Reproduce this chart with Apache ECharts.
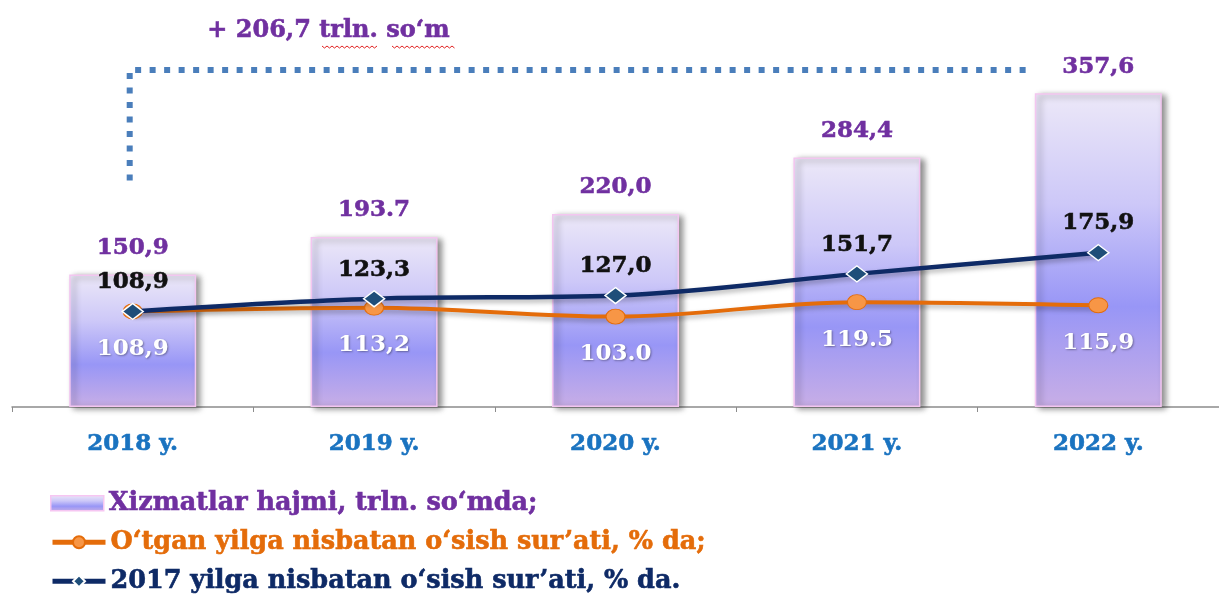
<!DOCTYPE html>
<html>
<head>
<meta charset="utf-8">
<script src="https://cdn.jsdelivr.net/npm/echarts@6/dist/echarts.min.js"></script>
<style>
  html, body { margin: 0; padding: 0; background: #fff; }
  #chart { width: 1219px; height: 595px; }
</style>
</head>
<body>
<div id="chart"></div>
<script>
// data
const years = ['2018 y.', '2019 y.', '2020 y.', '2021 y.', '2022 y.']
const volume = [150.9, 193.7, 220.0, 284.4, 357.6]
const volumeLabels = ['150,9', '193.7', '220,0', '284,4', '357,6']
const growthPrev = [108.9, 113.2, 103.0, 119.5, 115.9]
const growthPrevLabels = ['108,9', '113,2', '103.0', '119.5', '115,9']
const growth2017 = [108.9, 123.3, 127.0, 151.7, 175.9]
const growth2017Labels = ['108,9', '123,3', '127,0', '151,7', '175,9']

const barName = 'Xizmatlar hajmi, trln. so‘mda;'
const prevName = 'O‘tgan yilga nisbatan o‘sish sur’ati, % da;'
const baseName = '2017 yilga nisbatan o‘sish sur’ati, % da.'

const serif = '"DejaVu Serif", "Liberation Serif", serif'
const purple = '#7030a0'
const orange = '#e46c0a'
const navy = '#0e2a66'

const barGradient = new echarts.graphic.LinearGradient(0, 0, 0, 1, [
  { offset: 0, color: '#ece8f8' },
  { offset: 0.35, color: '#cdc8f8' },
  { offset: 0.68, color: '#9896f6' },
  { offset: 1, color: '#c8aee6' }
])

// bold text a bit heavier, like the original
function heavy(color, size) {
  return {
    color: color,
    fontFamily: serif,
    fontWeight: 'bold',
    fontSize: size,
    textBorderColor: color,
    textBorderWidth: 0.6
  }
}

// one legend per row, stacked under the axis
function legendRow(item, top) {
  return {
    orient: 'vertical',
    left: 50,
    top: top,
    padding: 0,
    itemWidth: 53,
    itemHeight: 15,
    data: [item]
  }
}

const chart = echarts.init(document.getElementById('chart'))

const option = {
  animation: false,
  grid: { left: 12, width: 1218, top: 56, bottom: 188 },
  legend: [
    legendRow({
      name: barName, icon: 'rect',
      itemStyle: { borderColor: '#f6c6f2', borderWidth: 1.5 },
      textStyle: heavy(purple, 25.5)
    }, 490),
    legendRow({
      name: prevName,
      lineStyle: { width: 5, shadowBlur: 0 },
      textStyle: heavy(orange, 25.5)
    }, 529),
    legendRow({
      name: baseName,
      lineStyle: { width: 5, shadowBlur: 0 },
      textStyle: heavy(navy, 25.5)
    }, 568)
  ],
  xAxis: {
    type: 'category',
    data: years,
    axisLine: { lineStyle: { color: '#8c8c8c', width: 1.5 } },
    axisTick: { show: true, length: 5, lineStyle: { color: '#8c8c8c' } },
    axisLabel: Object.assign(heavy('#1a73c0', 23), { margin: 26 })
  },
  yAxis: {
    type: 'value',
    min: 0,
    max: 400,
    show: false,
    splitLine: { show: false }
  },
  series: [
    {
      name: barName,
      type: 'bar',
      barWidth: 127,
      data: volume,
      itemStyle: {
        color: barGradient,
        borderColor: '#f3c6f0',
        borderWidth: 1.5,
        shadowColor: 'rgba(0,0,0,0.45)',
        shadowBlur: 6,
        shadowOffsetX: 4,
        shadowOffsetY: 2
      },
      label: Object.assign(heavy(purple, 23), {
        show: true,
        position: 'top',
        distance: 15,
        formatter: p => volumeLabels[p.dataIndex]
      }),
      z: 1
    },
    {
      name: prevName,
      type: 'line',
      smooth: 0.35,
      data: growthPrev,
      symbol: 'circle',
      symbolSize: [19, 15],
      color: orange,
      lineStyle: {
        color: orange, width: 4,
        shadowColor: 'rgba(0,0,0,0.3)', shadowBlur: 5, shadowOffsetY: 3
      },
      itemStyle: { color: '#f79646', borderColor: orange, borderWidth: 1 },
      label: {
        show: true,
        position: 'bottom',
        distance: 18,
        color: '#fff',
        fontFamily: serif,
        fontWeight: 'bold',
        fontSize: 23,
        textShadowColor: 'rgba(0,0,0,0.35)',
        textShadowBlur: 2,
        textShadowOffsetX: 1,
        textShadowOffsetY: 1,
        formatter: p => growthPrevLabels[p.dataIndex]
      },
      z: 3
    },
    {
      name: baseName,
      type: 'line',
      smooth: 0.35,
      data: growth2017,
      symbol: 'diamond',
      symbolSize: [21, 16],
      color: navy,
      lineStyle: {
        color: navy, width: 4.5,
        shadowColor: 'rgba(0,0,0,0.3)', shadowBlur: 5, shadowOffsetY: 3
      },
      itemStyle: { color: '#1f4e79', borderColor: '#fff', borderWidth: 1.5 },
      label: Object.assign(heavy('#111', 23), {
        show: true,
        position: 'top',
        distance: 9,
        formatter: p => growth2017Labels[p.dataIndex]
      }),
      z: 4
    }
  ]
}

chart.setOption(option)

// dotted bracket from 2018 to 2022 and the difference note
const x0 = chart.convertToPixel({ xAxisIndex: 0 }, years[0]) - 3
const x1 = chart.convertToPixel({ xAxisIndex: 0 }, years[4]) - 72
const yTop = chart.convertToPixel({ yAxisIndex: 0 }, 384)
const yBot = chart.convertToPixel({ yAxisIndex: 0 }, 258)

// red wavy spell-check underline
function wavy(xa, xb, y) {
  const pts = []
  for (let x = xa, i = 0; x <= xb; x += 2.5, i++) pts.push([x, y + (i % 2 ? 2 : 0)])
  return pts
}

chart.setOption({
  graphic: [
    {
      type: 'polyline',
      shape: { points: [[x0, yBot], [x0, yTop], [x1, yTop]] },
      style: { stroke: '#4a7ebb', lineWidth: 6, lineDash: [6, 8.5], fill: null }
    },
    {
      type: 'text',
      left: 207,
      top: 18,
      style: {
        text: '+ 206,7 trln. so‘m',
        fill: purple,
        stroke: purple,
        lineWidth: 0.6,
        font: 'bold 24px ' + serif
      }
    },
    {
      type: 'polyline',
      shape: { points: wavy(322, 378, 46) },
      style: { stroke: '#e02020', lineWidth: 1, fill: null }
    },
    {
      type: 'polyline',
      shape: { points: wavy(392, 456, 46) },
      style: { stroke: '#e02020', lineWidth: 1, fill: null }
    }
  ]
})
</script>
</body>
</html>
